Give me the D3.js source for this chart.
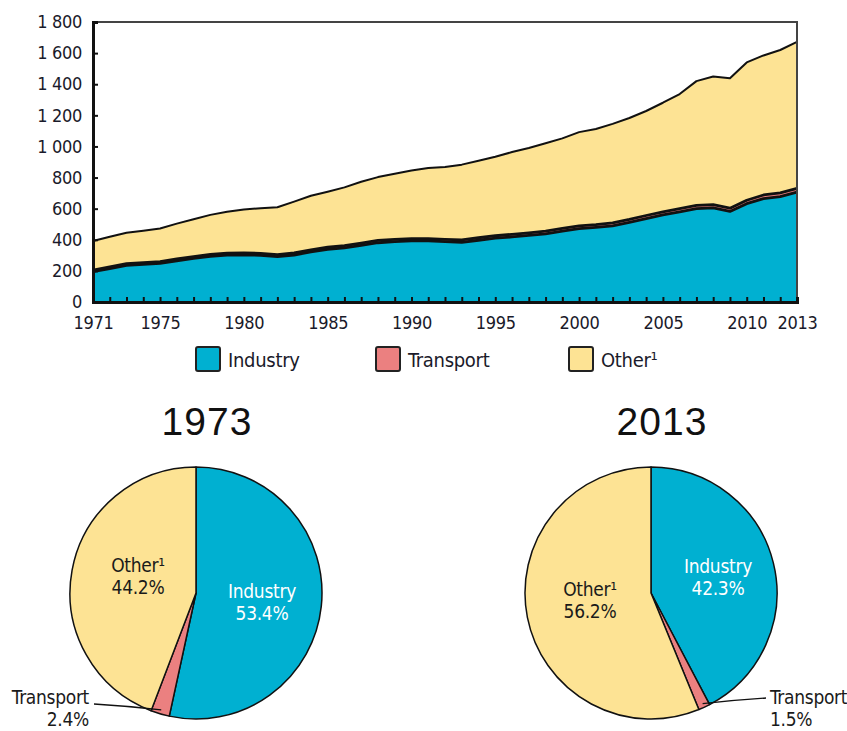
<!DOCTYPE html>
<html lang="en">
<head>
<meta charset="UTF-8">
<title>Energy consumption by sector</title>
<style>
  body { margin: 0; background: #fff; }
  #chart svg { display: block; }
  .narrow { font-family: "DejaVu Sans", sans-serif; font-stretch: condensed; letter-spacing: -0.3px; }
  .tick text { font-family: "DejaVu Sans", sans-serif; font-stretch: condensed; letter-spacing: -0.3px; font-size: 18px; fill: #1a1a2a; }
</style>
</head>
<body>
<div id="chart"></div>
<script src="https://d3js.org/d3.v7.min.js"></script>
<script>
// values
const years = d3.range(1971, 2014);
const industry = [195, 215, 235, 242, 249, 265, 280, 294, 301, 303, 300, 292, 302, 322, 338, 348, 364, 381, 388, 393, 393, 388, 383, 397, 410, 418, 428, 438, 455, 472, 480, 490, 512, 536, 560, 580, 600, 605, 582, 632, 665, 678, 706];
const transport = [10, 10, 11, 11, 11, 12, 12, 12, 13, 13, 13, 13, 13, 13, 14, 14, 14, 15, 15, 15, 15, 15, 16, 16, 16, 17, 17, 17, 18, 18, 18, 19, 19, 20, 20, 21, 21, 21, 21, 22, 23, 24, 25];
const other = [187, 195, 199, 205, 213, 227, 240, 254, 266, 279, 290, 304, 330, 348, 357, 375, 395, 407, 422, 437, 454, 465, 484, 495, 508, 529, 545, 565, 579, 602, 614, 636, 652, 672, 701, 736, 799, 824, 835, 886, 897, 918, 941];

const keys = ["industry", "transport", "other"];
const labels = ["Industry", "Transport", "Other\u00b9"];
const colors = ["#00b0d1", "#eb8080", "#fde394"];

const xLabelYears = [1971, 1975, 1980, 1985, 1990, 1995, 2000, 2005, 2010, 2013];
const yTicks = [0, 200, 400, 600, 800, 1000, 1200, 1400, 1600, 1800];

const pieYears = ["1973", "2013"];
const pie1973 = [53.4, 2.4, 44.2];
const pie2013 = [42.3, 1.5, 56.2];

const W = 847, H = 731;
const svg = d3.select("#chart").append("svg").attr("width", W).attr("height", H);

// ---- stacked area ----
const x = d3.scaleLinear().domain([1971, 2013]).range([93, 797]);
const y = d3.scaleLinear().domain([0, 1800]).range([302, 22]);

const table = years.map((yr, i) => ({ year: yr, industry: industry[i], transport: transport[i], other: other[i] }));
const series = d3.stack().keys(keys)(table);

const area = d3.area().x(d => x(d.data.year)).y0(d => y(d[0])).y1(d => y(d[1]));
const topLine = d3.line().x(d => x(d.data.year)).y(d => y(d[1]));

svg.selectAll(".layer").data(series).enter().append("path")
    .attr("class", "layer")
    .attr("d", area)
    .attr("fill", (d, i) => colors[i]);

svg.selectAll(".edge").data(series).enter().append("path")
    .attr("class", "edge")
    .attr("d", topLine)
    .attr("fill", "none")
    .attr("stroke", "#111")
    .attr("stroke-width", (d, i) => i === 2 ? 2 : 2.8)
    .attr("stroke-linejoin", "round");

// frame top and right
svg.append("path")
    .attr("d", "M" + x(1971) + "," + y(1800) + "H" + x(2013) + "V" + y(0))
    .attr("fill", "none").attr("stroke", "#444").attr("stroke-width", 2);

const fmt = d3.formatLocale({ decimal: ".", thousands: " ", grouping: [3], currency: ["", ""] }).format(",");

const yAxis = svg.append("g")
    .attr("transform", "translate(" + x(1971) + ",0)")
    .call(d3.axisLeft(y).tickValues(yTicks).tickSize(-5).tickPadding(11).tickFormat(fmt));
yAxis.select(".domain").attr("stroke", "#111").attr("stroke-width", 3);
yAxis.selectAll(".tick line").attr("stroke", "#111").attr("stroke-width", 2);

const xAxis = svg.append("g")
    .attr("transform", "translate(0," + y(0) + ")")
    .call(d3.axisBottom(x).tickValues(years).tickSize(-5).tickFormat(""));
xAxis.select(".domain").attr("stroke", "#111").attr("stroke-width", 3);
xAxis.selectAll(".tick line").attr("stroke", "#111").attr("stroke-width", 2);

const xLab = svg.append("g")
    .attr("transform", "translate(0," + y(0) + ")")
    .call(d3.axisBottom(x).tickValues(xLabelYears).tickSize(0).tickPadding(14).tickFormat(d3.format("d")));
xLab.select(".domain").remove();

// ---- legend ----
const legendX = [196, 376, 569];
const lg = svg.selectAll(".lg").data(labels).enter().append("g")
    .attr("class", "lg")
    .attr("transform", (d, i) => "translate(" + legendX[i] + ",347)");
lg.append("rect").attr("width", 24).attr("height", 24).attr("rx", 2)
    .attr("fill", (d, i) => colors[i]).attr("stroke", "#222").attr("stroke-width", 2);
lg.append("text").attr("class", "narrow").attr("x", 32).attr("y", 20)
    .attr("font-size", 20).attr("fill", "#1a1a2a").text(d => d);

// ---- pies ----
const pieCenters = [[196, 593], [651, 593]];
const R = 126;
const arc = d3.arc().innerRadius(0).outerRadius(R);
const pie = d3.pie().sort(null).value(d => d);

[pie1973, pie2013].forEach((vals, p) => {
  const g = svg.append("g").attr("transform", "translate(" + pieCenters[p][0] + "," + pieCenters[p][1] + ")");
  g.selectAll("path").data(pie(vals)).enter().append("path")
      .attr("d", arc)
      .attr("fill", (d, i) => colors[i])
      .attr("stroke", "#111").attr("stroke-width", 1.5).attr("stroke-linejoin", "round");

  svg.append("text")
      .attr("x", pieCenters[p][0] + 11).attr("y", 435)
      .attr("text-anchor", "middle")
      .attr("font-family", "Liberation Sans, Arial, sans-serif")
      .attr("font-size", 39).attr("letter-spacing", 1).attr("fill", "#111")
      .text(pieYears[p]);
});

// pie labels
const pieLabels = [
  { x: 138, y: 572, t: ["Other\u00b9", pie1973[2].toFixed(1) + "%"], c: "#1a1a1a", a: "middle" },
  { x: 262, y: 598, t: ["Industry", pie1973[0].toFixed(1) + "%"], c: "#fff", a: "middle" },
  { x: 89, y: 704, t: ["Transport", pie1973[1].toFixed(1) + "%"], c: "#1a1a1a", a: "end" },
  { x: 590, y: 596, t: ["Other\u00b9", pie2013[2].toFixed(1) + "%"], c: "#1a1a1a", a: "middle" },
  { x: 718, y: 573, t: ["Industry", pie2013[0].toFixed(1) + "%"], c: "#fff", a: "middle" },
  { x: 770, y: 704, t: ["Transport", pie2013[1].toFixed(1) + "%"], c: "#1a1a1a", a: "start" }
];
pieLabels.forEach(l => {
  const t = svg.append("text").attr("class", "narrow")
      .attr("x", l.x).attr("y", l.y).attr("text-anchor", l.a)
      .attr("font-size", 19).attr("fill", l.c);
  l.t.forEach((s, i) => t.append("tspan").attr("x", l.x).attr("dy", i ? 22 : 0).text(s));
});

// leader lines for transport
function leader(p, vals, tx, ty) {
  const a = pie(vals)[1];
  const mid = (a.startAngle + a.endAngle) / 2;
  const cx = pieCenters[p][0] + Math.sin(mid) * (R - 4);
  const cy = pieCenters[p][1] - Math.cos(mid) * (R - 4);
  svg.append("path")
      .attr("d", "M" + tx + "," + ty + "Q" + ((tx + cx) / 2) + "," + (ty + 2) + " " + cx + "," + cy)
      .attr("fill", "none").attr("stroke", "#111").attr("stroke-width", 1.3);
}
leader(0, pie1973, 94, 704);
leader(1, pie2013, 766, 698);
</script>
</body>
</html>
